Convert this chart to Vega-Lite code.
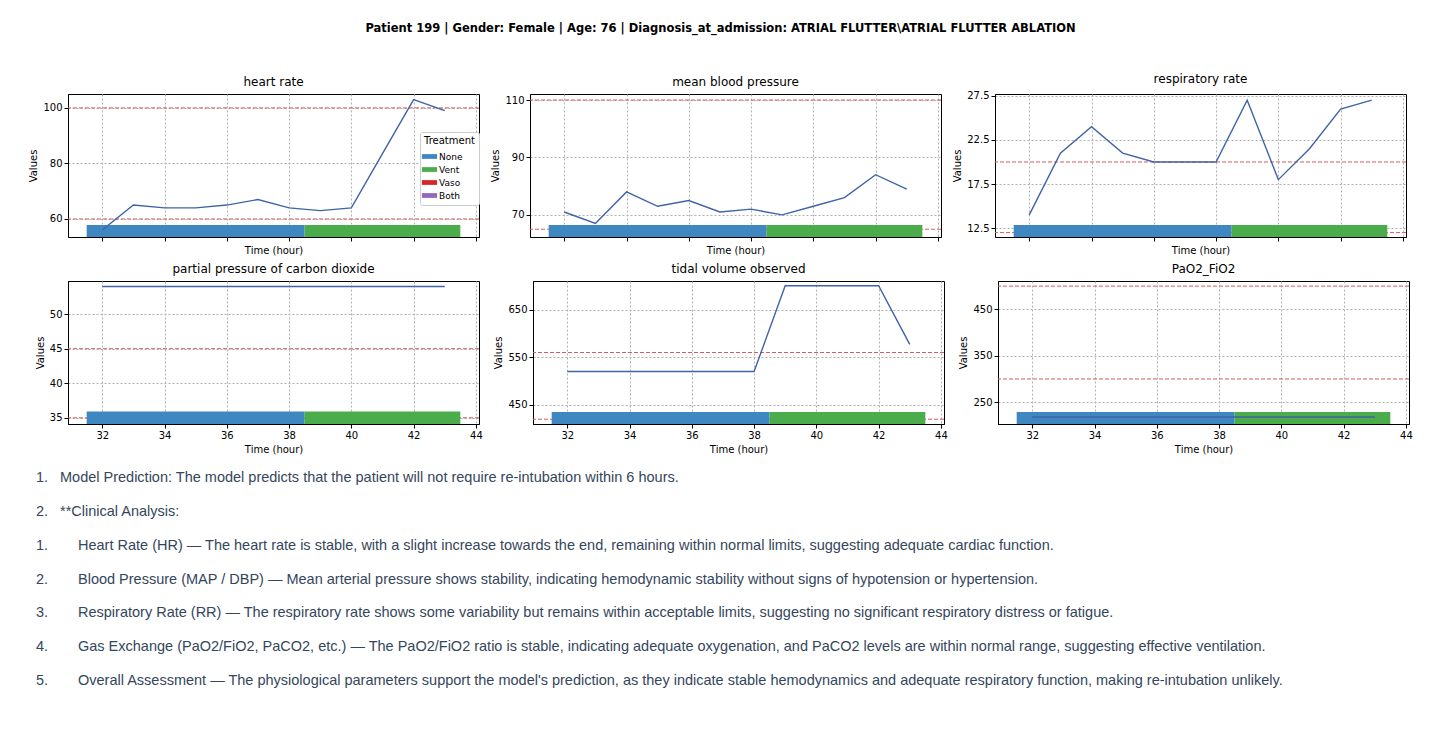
{
"$schema":"https://vega.github.io/schema/vega-lite/v6.json",
"padding":{"left":28,"top":22,"right":10,"bottom":10},
"spacing":6,
"title":{"text":"Patient 199 | Gender: Female | Age: 76 | Diagnosis_at_admission: ATRIAL FLUTTER\\ATRIAL FLUTTER ABLATION","font":"DejaVu Sans","fontSize":11.5,"fontWeight":"bold","anchor":"middle","offset":38},
"config":{
 "font":"DejaVu Sans",
 "view":{"stroke":"#000","strokeWidth":1},
 "axis":{"grid":true,"gridDash":[2,2],"gridColor":"#b0b0b0","domainColor":"#000","tickColor":"#000","labelColor":"#000","titleColor":"#000","labelFont":"DejaVu Sans","titleFont":"DejaVu Sans","labelFontSize":10,"titleFontSize":10,"titleFontWeight":"normal","tickSize":4,"labelOverlap":false},
 "title":{"font":"DejaVu Sans","fontSize":12,"fontWeight":"normal","offset":5},
 "concat":{"spacing":10}
},
"datasets":{
"s":[
{"p":"hr","t":32,"v":56},{"p":"hr","t":33,"v":65},{"p":"hr","t":34,"v":64},{"p":"hr","t":35,"v":64},{"p":"hr","t":36,"v":65},{"p":"hr","t":37,"v":67},{"p":"hr","t":38,"v":64},{"p":"hr","t":39,"v":63},{"p":"hr","t":40,"v":64},{"p":"hr","t":41,"v":83.5},{"p":"hr","t":42,"v":103},{"p":"hr","t":43,"v":99},
{"p":"mbp","t":32,"v":71},{"p":"mbp","t":33,"v":67},{"p":"mbp","t":34,"v":78},{"p":"mbp","t":35,"v":73},{"p":"mbp","t":36,"v":75},{"p":"mbp","t":37,"v":71},{"p":"mbp","t":38,"v":72},{"p":"mbp","t":39,"v":70},{"p":"mbp","t":40,"v":73},{"p":"mbp","t":41,"v":76},{"p":"mbp","t":42,"v":84},{"p":"mbp","t":43,"v":79},
{"p":"rr","t":32,"v":14},{"p":"rr","t":33,"v":21},{"p":"rr","t":34,"v":24},{"p":"rr","t":35,"v":21},{"p":"rr","t":36,"v":20},{"p":"rr","t":37,"v":20},{"p":"rr","t":38,"v":20},{"p":"rr","t":39,"v":27},{"p":"rr","t":40,"v":18},{"p":"rr","t":41,"v":21.5},{"p":"rr","t":42,"v":26},{"p":"rr","t":43,"v":27},
{"p":"co2","t":32,"v":54},{"p":"co2","t":33,"v":54},{"p":"co2","t":34,"v":54},{"p":"co2","t":35,"v":54},{"p":"co2","t":36,"v":54},{"p":"co2","t":37,"v":54},{"p":"co2","t":38,"v":54},{"p":"co2","t":39,"v":54},{"p":"co2","t":40,"v":54},{"p":"co2","t":41,"v":54},{"p":"co2","t":42,"v":54},{"p":"co2","t":43,"v":54},
{"p":"tv","t":32,"v":520},{"p":"tv","t":33,"v":520},{"p":"tv","t":34,"v":520},{"p":"tv","t":35,"v":520},{"p":"tv","t":36,"v":520},{"p":"tv","t":37,"v":520},{"p":"tv","t":38,"v":520},{"p":"tv","t":39,"v":700},{"p":"tv","t":40,"v":700},{"p":"tv","t":41,"v":700},{"p":"tv","t":42,"v":700},{"p":"tv","t":43,"v":577},
{"p":"pf","t":32,"v":218},{"p":"pf","t":33,"v":218},{"p":"pf","t":34,"v":218},{"p":"pf","t":35,"v":218},{"p":"pf","t":36,"v":218},{"p":"pf","t":37,"v":218},{"p":"pf","t":38,"v":218},{"p":"pf","t":39,"v":218},{"p":"pf","t":40,"v":218},{"p":"pf","t":41,"v":218},{"p":"pf","t":42,"v":218},{"p":"pf","t":43,"v":218}
],
"b":[
{"p":"hr","k":"None","a":31.5,"e":38.5,"lo":53.5,"hi":57.8},{"p":"hr","k":"Vent","a":38.5,"e":43.5,"lo":53.5,"hi":57.8},
{"p":"mbp","k":"None","a":31.5,"e":38.5,"lo":62.3,"hi":66.5},{"p":"mbp","k":"Vent","a":38.5,"e":43.5,"lo":62.3,"hi":66.5},
{"p":"rr","k":"None","a":31.5,"e":38.5,"lo":11.5,"hi":12.85},{"p":"rr","k":"Vent","a":38.5,"e":43.5,"lo":11.5,"hi":12.85},
{"p":"co2","k":"None","a":31.5,"e":38.5,"lo":34.1,"hi":35.9},{"p":"co2","k":"Vent","a":38.5,"e":43.5,"lo":34.1,"hi":35.9},
{"p":"tv","k":"None","a":31.5,"e":38.5,"lo":410,"hi":435},{"p":"tv","k":"Vent","a":38.5,"e":43.5,"lo":410,"hi":435},
{"p":"pf","k":"None","a":31.5,"e":38.5,"lo":203,"hi":229},{"p":"pf","k":"Vent","a":38.5,"e":43.5,"lo":203,"hi":229}
],
"r":[
{"p":"hr","v":60},{"p":"hr","v":100},{"p":"mbp","v":65},{"p":"mbp","v":110},{"p":"rr","v":12},{"p":"rr","v":20},
{"p":"co2","v":35},{"p":"co2","v":45},{"p":"tv","v":420},{"p":"tv","v":560},{"p":"pf","v":300},{"p":"pf","v":500}
],
"txt":[
{"i":1,"n":"1.","c":-20,"c2":-8,"s":"Model Prediction: The model predicts that the patient will not require re-intubation within 6 hours."},
{"i":2,"n":"2.","c":-20,"c2":-8,"s":"**Clinical Analysis:"},
{"i":3,"n":"1.","c":-20,"c2":10,"s":"Heart Rate (HR) — The heart rate is stable, with a slight increase towards the end, remaining within normal limits, suggesting adequate cardiac function."},
{"i":4,"n":"2.","c":-20,"c2":10,"s":"Blood Pressure (MAP / DBP) — Mean arterial pressure shows stability, indicating hemodynamic stability without signs of hypotension or hypertension."},
{"i":5,"n":"3.","c":-20,"c2":10,"s":"Respiratory Rate (RR) — The respiratory rate shows some variability but remains within acceptable limits, suggesting no significant respiratory distress or fatigue."},
{"i":6,"n":"4.","c":-20,"c2":10,"s":"Gas Exchange (PaO2/FiO2, PaCO2, etc.) — The PaO2/FiO2 ratio is stable, indicating adequate oxygenation, and PaCO2 levels are within normal range, suggesting effective ventilation."},
{"i":7,"n":"5.","c":-20,"c2":10,"s":"Overall Assessment — The physiological parameters support the model's prediction, as they indicate stable hemodynamics and adequate respiratory function, making re-intubation unlikely."}
]
},
"vconcat":[
{"hconcat":[
{"title":"heart rate","width":411,"height":143,"layer":[
 {"data":{"name":"r"},"transform":[{"filter":"datum.p==='hr'"}],"mark":{"type":"rule","color":"#d0605e","strokeDash":[4,2]},"encoding":{"y":{"field":"v","type":"quantitative","scale":{"domain":[53.5,105],"nice":false,"zero":false}}}},
 {"data":{"name":"b"},"transform":[{"filter":"datum.p==='hr'"}],"mark":{"type":"rect"},"encoding":{"x":{"field":"a","type":"quantitative"},"x2":{"field":"e"},"y":{"field":"lo","type":"quantitative"},"y2":{"field":"hi"},"color":{"field":"k","type":"nominal","scale":{"domain":["None","Vent","Vaso","Both"],"range":["#3f87c1","#4aac4a","#d62728","#9467bd"]},"legend":{"title":"Treatment","orient":"none","legendX":352,"legendY":38,"fillColor":"#fff","strokeColor":"#ccc","padding":4,"symbolType":"M-1.6,-0.5H1.6V0.5H-1.6Z","symbolSize":90,"labelFontSize":9,"titleFontSize":10,"titleFontWeight":"normal","rowPadding":2,"cornerRadius":2}}}},
 {"data":{"name":"s"},"transform":[{"filter":"datum.p==='hr'"}],"mark":{"type":"line","color":"#4063a8","strokeWidth":1.4},"encoding":{"x":{"field":"t","type":"quantitative","scale":{"domain":[30.9,44.1],"nice":false,"zero":false},"axis":{"title":"Time (hour)","values":[32,34,36,38,40,42,44],"labels":false}},"y":{"field":"v","type":"quantitative","axis":{"title":"Values","values":[60,70,80,90,100]}}}}
]},
{"title":"mean blood pressure","width":411,"height":143,"layer":[
 {"data":{"name":"r"},"transform":[{"filter":"datum.p==='mbp'"}],"mark":{"type":"rule","color":"#d0605e","strokeDash":[4,2]},"encoding":{"y":{"field":"v","type":"quantitative","scale":{"domain":[62.3,112.1],"nice":false,"zero":false}}}},
 {"data":{"name":"b"},"transform":[{"filter":"datum.p==='mbp'"}],"mark":{"type":"rect"},"encoding":{"x":{"field":"a","type":"quantitative"},"x2":{"field":"e"},"y":{"field":"lo","type":"quantitative"},"y2":{"field":"hi"},"color":{"field":"k","type":"nominal","scale":{"domain":["None","Vent","Vaso","Both"],"range":["#3f87c1","#4aac4a","#d62728","#9467bd"]},"legend":null}}},
 {"data":{"name":"s"},"transform":[{"filter":"datum.p==='mbp'"}],"mark":{"type":"line","color":"#4063a8","strokeWidth":1.4},"encoding":{"x":{"field":"t","type":"quantitative","scale":{"domain":[30.9,44.1],"nice":false,"zero":false},"axis":{"title":"Time (hour)","values":[32,34,36,38,40,42,44],"labels":false}},"y":{"field":"v","type":"quantitative","axis":{"title":"Values","values":[70,80,90,100,110]}}}}
]},
{"title":"respiratory rate","width":411,"height":143,"layer":[
 {"data":{"name":"r"},"transform":[{"filter":"datum.p==='rr'"}],"mark":{"type":"rule","color":"#d0605e","strokeDash":[4,2]},"encoding":{"y":{"field":"v","type":"quantitative","scale":{"domain":[11.5,27.7],"nice":false,"zero":false}}}},
 {"data":{"name":"b"},"transform":[{"filter":"datum.p==='rr'"}],"mark":{"type":"rect"},"encoding":{"x":{"field":"a","type":"quantitative"},"x2":{"field":"e"},"y":{"field":"lo","type":"quantitative"},"y2":{"field":"hi"},"color":{"field":"k","type":"nominal","scale":{"domain":["None","Vent","Vaso","Both"],"range":["#3f87c1","#4aac4a","#d62728","#9467bd"]},"legend":null}}},
 {"data":{"name":"s"},"transform":[{"filter":"datum.p==='rr'"}],"mark":{"type":"line","color":"#4063a8","strokeWidth":1.4},"encoding":{"x":{"field":"t","type":"quantitative","scale":{"domain":[30.9,44.1],"nice":false,"zero":false},"axis":{"title":"Time (hour)","values":[32,34,36,38,40,42,44],"labels":false}},"y":{"field":"v","type":"quantitative","axis":{"title":"Values","values":[12.5,15,17.5,20,22.5,25,27.5],"format":".1f"}}}}
]}
]},
{"hconcat":[
{"title":"partial pressure of carbon dioxide","width":411,"height":143,"layer":[
 {"data":{"name":"r"},"transform":[{"filter":"datum.p==='co2'"}],"mark":{"type":"rule","color":"#d0605e","strokeDash":[4,2]},"encoding":{"y":{"field":"v","type":"quantitative","scale":{"domain":[34.1,54.8],"nice":false,"zero":false}}}},
 {"data":{"name":"b"},"transform":[{"filter":"datum.p==='co2'"}],"mark":{"type":"rect"},"encoding":{"x":{"field":"a","type":"quantitative"},"x2":{"field":"e"},"y":{"field":"lo","type":"quantitative"},"y2":{"field":"hi"},"color":{"field":"k","type":"nominal","scale":{"domain":["None","Vent","Vaso","Both"],"range":["#3f87c1","#4aac4a","#d62728","#9467bd"]},"legend":null}}},
 {"data":{"name":"s"},"transform":[{"filter":"datum.p==='co2'"}],"mark":{"type":"line","color":"#4063a8","strokeWidth":1.4},"encoding":{"x":{"field":"t","type":"quantitative","scale":{"domain":[30.9,44.1],"nice":false,"zero":false},"axis":{"title":"Time (hour)","values":[32,34,36,38,40,42,44]}},"y":{"field":"v","type":"quantitative","axis":{"title":"Values","values":[35,40,45,50]}}}}
]},
{"title":"tidal volume observed","width":411,"height":143,"layer":[
 {"data":{"name":"r"},"transform":[{"filter":"datum.p==='tv'"}],"mark":{"type":"rule","color":"#d0605e","strokeDash":[4,2]},"encoding":{"y":{"field":"v","type":"quantitative","scale":{"domain":[410,710],"nice":false,"zero":false}}}},
 {"data":{"name":"b"},"transform":[{"filter":"datum.p==='tv'"}],"mark":{"type":"rect"},"encoding":{"x":{"field":"a","type":"quantitative"},"x2":{"field":"e"},"y":{"field":"lo","type":"quantitative"},"y2":{"field":"hi"},"color":{"field":"k","type":"nominal","scale":{"domain":["None","Vent","Vaso","Both"],"range":["#3f87c1","#4aac4a","#d62728","#9467bd"]},"legend":null}}},
 {"data":{"name":"s"},"transform":[{"filter":"datum.p==='tv'"}],"mark":{"type":"line","color":"#4063a8","strokeWidth":1.4},"encoding":{"x":{"field":"t","type":"quantitative","scale":{"domain":[30.9,44.1],"nice":false,"zero":false},"axis":{"title":"Time (hour)","values":[32,34,36,38,40,42,44]}},"y":{"field":"v","type":"quantitative","axis":{"title":"Values","values":[450,500,550,600,650,700]}}}}
]},
{"title":"PaO2_FiO2","width":411,"height":143,"layer":[
 {"data":{"name":"r"},"transform":[{"filter":"datum.p==='pf'"}],"mark":{"type":"rule","color":"#d0605e","strokeDash":[4,2]},"encoding":{"y":{"field":"v","type":"quantitative","scale":{"domain":[203,511],"nice":false,"zero":false}}}},
 {"data":{"name":"b"},"transform":[{"filter":"datum.p==='pf'"}],"mark":{"type":"rect"},"encoding":{"x":{"field":"a","type":"quantitative"},"x2":{"field":"e"},"y":{"field":"lo","type":"quantitative"},"y2":{"field":"hi"},"color":{"field":"k","type":"nominal","scale":{"domain":["None","Vent","Vaso","Both"],"range":["#3f87c1","#4aac4a","#d62728","#9467bd"]},"legend":null}}},
 {"data":{"name":"s"},"transform":[{"filter":"datum.p==='pf'"}],"mark":{"type":"line","color":"#4063a8","strokeWidth":1.4},"encoding":{"x":{"field":"t","type":"quantitative","scale":{"domain":[30.9,44.1],"nice":false,"zero":false},"axis":{"title":"Time (hour)","values":[32,34,36,38,40,42,44]}},"y":{"field":"v","type":"quantitative","axis":{"title":"Values","values":[250,300,350,400,450,500]}}}}
]}
]},
{"width":1340,"height":237,"view":{"stroke":null},"data":{"name":"txt"},"layer":[
 {"mark":{"type":"text","align":"right","baseline":"middle","font":"Liberation Sans","fontSize":14.5,"color":"#34465c"},"encoding":{"y":{"field":"i","type":"ordinal","axis":null,"scale":{"paddingOuter":0.8}},"x":{"field":"c","type":"quantitative","axis":null,"scale":{"domain":[0,1340],"nice":false,"zero":false}},"text":{"field":"n"}}},
 {"mark":{"type":"text","align":"left","baseline":"middle","font":"Liberation Sans","fontSize":14.5,"color":"#34465c"},"encoding":{"y":{"field":"i","type":"ordinal","axis":null},"x":{"field":"c2","type":"quantitative","axis":null},"text":{"field":"s"}}}
]}
],
"resolve":{"scale":{"color":"independent"}}
}
